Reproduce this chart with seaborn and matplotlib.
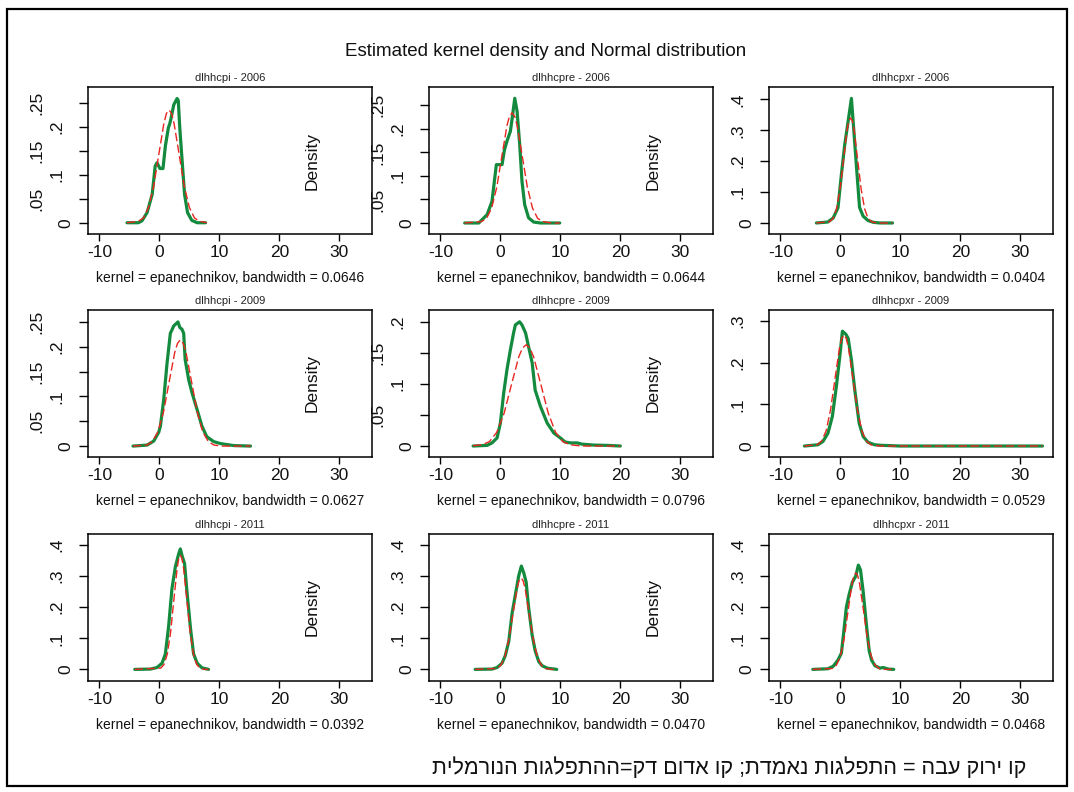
import seaborn as sns
import matplotlib.pyplot as plt
import matplotlib.transforms as mtrans
from matplotlib.patches import Rectangle

# --- values ---
titles = ['dlhhcpi - 2006', 'dlhhcpre - 2006', 'dlhhcpxr - 2006',
          'dlhhcpi - 2009', 'dlhhcpre - 2009', 'dlhhcpxr - 2009',
          'dlhhcpi - 2011', 'dlhhcpre - 2011', 'dlhhcpxr - 2011']
bandwidths = ['0.0646', '0.0644', '0.0404', '0.0627', '0.0796', '0.0529', '0.0392', '0.0470', '0.0468']

x_ticks = [-10, 0, 10, 20, 30]
x_tick_labels = ['-10', '0', '10', '20', '30']
yt_25 = [0, 0.05, 0.1, 0.15, 0.2, 0.25]
yt_25_lab = ['0', '.05', '.1', '.15', '.2', '.25']
yt_20 = [0, 0.05, 0.1, 0.15, 0.2]
yt_20_lab = ['0', '.05', '.1', '.15', '.2']
yt_3 = [0, 0.1, 0.2, 0.3]
yt_3_lab = ['0', '.1', '.2', '.3']
yt_4 = [0, 0.1, 0.2, 0.3, 0.4]
yt_4_lab = ['0', '.1', '.2', '.3', '.4']

# kernel density (green) and normal density (red) -- dlhhcpi 2006
kd_x_cpi06 = [-5.4, -3.5, -2.9, -2.05, -1.2, -0.7, -0.4, 0.1, 0.6, 1.0, 1.5, 1.7, 1.9, 2.4, 2.95, 3.15, 3.4, 3.8, 4.2, 4.7, 5.4, 6.3, 7.7]
kd_y_cpi06 = [0, 0.0, 0.004, 0.021, 0.059, 0.118, 0.125, 0.113, 0.113, 0.16, 0.198, 0.205, 0.215, 0.246, 0.259, 0.255, 0.198, 0.128, 0.059, 0.021, 0.005, 0.0, 0]
nd_x_cpi06 = [-5.4, -3.5, -2.65, -1.8, -0.95, -0.1, 0.75, 1.18, 1.6, 2.03, 2.45, 3.3, 4.15, 5.0, 5.85, 6.7, 7.9]
nd_y_cpi06 = [0.0, 0.003, 0.010, 0.032, 0.076, 0.142, 0.207, 0.228, 0.235, 0.228, 0.207, 0.142, 0.076, 0.032, 0.010, 0.003, 0.0]

# dlhhcpre 2006
kd_x_cpre06 = [-5.95, -3.6, -2.2, -1.4, -0.67, 0.28, 0.67, 1.1, 1.67, 1.94, 2.4, 2.78, 3.22, 3.6, 4.05, 4.7, 5.55, 6.67, 9.9]
kd_y_cpre06 = [0, 0.0, 0.018, 0.046, 0.124, 0.124, 0.155, 0.174, 0.195, 0.22, 0.265, 0.238, 0.167, 0.089, 0.039, 0.011, 0.002, 0.0, 0]
nd_x_cpre06 = [-5.95, -3.15, -2.3, -1.45, -0.6, 0.25, 1.1, 1.52, 1.95, 2.38, 2.8, 3.65, 4.5, 5.35, 6.2, 7.05, 8.5, 9.9]
nd_y_cpre06 = [0.0, 0.003, 0.010, 0.032, 0.076, 0.142, 0.207, 0.227, 0.234, 0.227, 0.207, 0.142, 0.076, 0.032, 0.010, 0.003, 0.0, 0.0]

# dlhhcpxr 2006
kd_x_cpxr06 = [-4.0, -2.1, -1.2, -0.4, 0.17, 0.73, 1.3, 1.84, 2.2, 2.7, 3.2, 3.8, 4.6, 5.5, 6.6, 8.7]
kd_y_cpxr06 = [0, 0.003, 0.016, 0.049, 0.157, 0.254, 0.33, 0.403, 0.31, 0.178, 0.05, 0.022, 0.008, 0.002, 0.0, 0]
nd_x_cpxr06 = [-4.0, -1.8, -1.2, -0.64, -0.06, 0.53, 1.1, 1.4, 1.7, 2.0, 2.3, 2.87, 3.46, 4.04, 4.6, 5.2, 6.0, 8.7]
nd_y_cpxr06 = [0.0, 0.004, 0.015, 0.046, 0.11, 0.206, 0.30, 0.33, 0.34, 0.33, 0.30, 0.206, 0.11, 0.046, 0.015, 0.004, 0.0, 0.0]

# dlhhcpi 2009
kd_x_cpi09 = [-4.4, -2.05, -0.95, -0.1, 0.17, 0.72, 1.28, 1.83, 2.4, 3.1, 3.4, 3.78, 4.05, 4.3, 4.9, 5.45, 6.3, 7.1, 7.9, 9.05, 10.2, 12.4, 15.2]
kd_y_cpi09 = [0, 0.002, 0.01, 0.028, 0.04, 0.093, 0.167, 0.227, 0.242, 0.25, 0.239, 0.235, 0.227, 0.174, 0.133, 0.107, 0.073, 0.04, 0.019, 0.009, 0.005, 0.001, 0]
nd_x_cpi09 = [-4.4, -2.1, -1.16, -0.23, 0.7, 1.64, 2.57, 3.03, 3.5, 3.97, 4.43, 5.36, 6.3, 7.23, 8.16, 9.1, 10.5, 15.2]
nd_y_cpi09 = [0.0, 0.002, 0.009, 0.029, 0.069, 0.13, 0.189, 0.207, 0.214, 0.207, 0.189, 0.13, 0.069, 0.029, 0.009, 0.002, 0.0, 0.0]

# dlhhcpre 2009
kd_x_cpre09 = [-4.55, -2.2, -1.4, -0.55, 0.0, 0.55, 1.1, 1.67, 2.2, 2.5, 3.2, 3.6, 4.2, 4.7, 5.3, 5.8, 6.67, 7.8, 8.9, 10.0, 10.8, 11.7, 12.8, 13.6, 15.6, 17.8, 20.0]
kd_y_cpre09 = [0, 0.001, 0.005, 0.013, 0.037, 0.085, 0.123, 0.155, 0.182, 0.195, 0.2, 0.195, 0.182, 0.16, 0.134, 0.09, 0.064, 0.037, 0.021, 0.013, 0.0064, 0.005, 0.005, 0.003, 0.0015, 0.001, 0]
nd_x_cpre09 = [-4.55, -3.05, -1.83, -0.6, 0.63, 1.85, 3.08, 3.7, 4.3, 4.9, 5.53, 6.75, 7.98, 9.2, 10.43, 11.65, 13.5, 20.0]
nd_y_cpre09 = [0.0005, 0.002, 0.007, 0.022, 0.053, 0.099, 0.144, 0.158, 0.163, 0.158, 0.144, 0.099, 0.053, 0.022, 0.007, 0.002, 0.0, 0.0]

# dlhhcpxr 2009
kd_x_cpxr09 = [-6.0, -3.75, -2.9, -2.07, -1.34, -0.67, -0.1, 0.34, 0.9, 1.3, 1.84, 2.4, 3.13, 3.8, 4.6, 5.7, 6.9, 8.2, 9.9, 33.7]
kd_y_cpxr09 = [0, 0.003, 0.011, 0.031, 0.071, 0.143, 0.215, 0.276, 0.269, 0.259, 0.207, 0.135, 0.055, 0.023, 0.009, 0.003, 0.0016, 0.001, 0, 0]
nd_x_cpxr09 = [-6.0, -3.87, -3.13, -2.38, -1.64, -0.89, -0.15, 0.23, 0.6, 0.97, 1.35, 2.09, 2.84, 3.58, 4.33, 5.07, 6.5, 33.7]
nd_y_cpxr09 = [0.0, 0.003, 0.012, 0.036, 0.087, 0.162, 0.236, 0.259, 0.267, 0.259, 0.236, 0.162, 0.087, 0.036, 0.012, 0.003, 0.0, 0.0]

# dlhhcpi 2011
kd_x_cpi11 = [-4.1, -1.5, -0.4, 0.45, 1.0, 1.55, 2.1, 2.67, 3.2, 3.5, 3.8, 4.2, 4.6, 5.2, 5.7, 6.3, 7.1, 8.2]
kd_y_cpi11 = [0, 0.001, 0.006, 0.02, 0.05, 0.14, 0.26, 0.33, 0.37, 0.387, 0.364, 0.34, 0.25, 0.13, 0.05, 0.02, 0.005, 0]
nd_x_cpi11 = [-4.1, 0.24, 0.78, 1.33, 1.87, 2.41, 2.96, 3.23, 3.5, 3.77, 4.04, 4.59, 5.13, 5.67, 6.22, 6.76, 7.5, 8.2]
nd_y_cpi11 = [0.0, 0.004, 0.016, 0.05, 0.119, 0.223, 0.324, 0.356, 0.367, 0.356, 0.324, 0.223, 0.119, 0.05, 0.016, 0.004, 0.0, 0.0]

# dlhhcpre 2011
kd_x_cpre11 = [-4.2, -1.4, -0.55, 0.28, 0.83, 1.4, 1.95, 2.5, 3.05, 3.5, 3.9, 4.3, 4.7, 5.3, 5.8, 6.4, 6.95, 7.8, 9.4]
kd_y_cpre11 = [0, 0.001, 0.006, 0.02, 0.045, 0.09, 0.18, 0.24, 0.3, 0.332, 0.31, 0.28, 0.2, 0.11, 0.06, 0.025, 0.012, 0.004, 0]
nd_x_cpre11 = [-4.2, -0.62, 0.06, 0.74, 1.41, 2.09, 2.77, 3.11, 3.45, 3.79, 4.13, 4.81, 5.49, 6.16, 6.84, 7.52, 8.5, 9.4]
nd_y_cpre11 = [0.0, 0.003, 0.013, 0.04, 0.096, 0.178, 0.259, 0.285, 0.294, 0.285, 0.259, 0.178, 0.096, 0.04, 0.013, 0.003, 0.0, 0.0]

# dlhhcpxr 2011
kd_x_cpxr11 = [-4.6, -2.1, -1.2, -0.4, 0.17, 0.56, 1.0, 1.45, 2.0, 2.57, 3.0, 3.35, 3.8, 4.36, 4.8, 5.2, 5.75, 6.6, 7.1, 7.5, 8.0, 8.9]
kd_y_cpxr11 = [0, 0.002, 0.01, 0.03, 0.052, 0.12, 0.2, 0.24, 0.28, 0.3, 0.335, 0.32, 0.25, 0.14, 0.06, 0.03, 0.012, 0.004, 0.006, 0.004, 0.001, 0]
nd_x_cpxr11 = [-4.6, -1.29, -0.65, 0.0, 0.64, 1.28, 1.93, 2.25, 2.57, 2.89, 3.21, 3.86, 4.5, 5.14, 5.79, 6.43, 7.5, 9.0]
nd_y_cpxr11 = [0.0, 0.003, 0.014, 0.042, 0.10, 0.188, 0.274, 0.301, 0.31, 0.301, 0.274, 0.188, 0.10, 0.042, 0.014, 0.003, 0.0, 0.0]

kd_x = [kd_x_cpi06, kd_x_cpre06, kd_x_cpxr06, kd_x_cpi09, kd_x_cpre09, kd_x_cpxr09, kd_x_cpi11, kd_x_cpre11, kd_x_cpxr11]
kd_y = [kd_y_cpi06, kd_y_cpre06, kd_y_cpxr06, kd_y_cpi09, kd_y_cpre09, kd_y_cpxr09, kd_y_cpi11, kd_y_cpre11, kd_y_cpxr11]
nd_x = [nd_x_cpi06, nd_x_cpre06, nd_x_cpxr06, nd_x_cpi09, nd_x_cpre09, nd_x_cpxr09, nd_x_cpi11, nd_x_cpre11, nd_x_cpxr11]
nd_y = [nd_y_cpi06, nd_y_cpre06, nd_y_cpxr06, nd_y_cpi09, nd_y_cpre09, nd_y_cpxr09, nd_y_cpi11, nd_y_cpre11, nd_y_cpxr11]

y_ticks = [yt_25, yt_25, yt_4, yt_25, yt_20, yt_3, yt_4, yt_4, yt_4]
y_tick_labels = [yt_25_lab, yt_25_lab, yt_4_lab, yt_25_lab, yt_20_lab, yt_3_lab, yt_4_lab, yt_4_lab, yt_4_lab]
y_limits = [(-0.0235, 0.283), (-0.0234, 0.289), (-0.0357, 0.44),
            (-0.022, 0.274), (-0.0177, 0.219), (-0.0264, 0.327),
            (-0.0373, 0.435), (-0.0373, 0.435), (-0.0373, 0.435)]

main_title = 'Estimated kernel density and Normal distribution'
note_text = 'קו ירוק עבה = התפלגות נאמדת; קו אדום דק=ההתפלגות הנורמלית'

# --- style ---
sns.set_theme(style='white')
plt.rcParams['font.family'] = ['Liberation Sans', 'DejaVu Sans']

GREEN = '#138a3e'
RED = '#e8261f'
W, H = 1074, 792
fig = plt.figure(figsize=(W / 100, H / 100), dpi=100)

col_left = [88, 429, 769]
row_top = [87, 310, 534]
ax_w, ax_h = 284, 147
tick_fs = 12.5
em_px = tick_fs * 100 / 72


def ylab_offset(s):
    # rotated y labels in the reference sit further out the longer they are
    w = sum(0.278 if c == '.' else 0.556 for c in s) * em_px
    return 2.6 + 2 * w


for i in range(9):
    r, c = divmod(i, 3)
    ax = fig.add_axes([col_left[c] / W, 1 - (row_top[r] + ax_h) / H, ax_w / W, ax_h / H])

    sns.lineplot(x=kd_x[i], y=kd_y[i], ax=ax, color=GREEN, linewidth=2.3,
                 estimator=None, sort=False)
    sns.lineplot(x=nd_x[i], y=nd_y[i], ax=ax, color=RED, linewidth=1.0,
                 linestyle=(0, (6, 2.5)), estimator=None, sort=False)

    ax.set_xlim(-11.9, 35.45)
    ax.set_ylim(*y_limits[i])
    ax.set_xticks(x_ticks)
    ax.set_xticklabels(x_tick_labels)
    ax.set_yticks(y_ticks[i])
    ax.set_yticklabels([])
    ax.tick_params(axis='x', bottom=True, length=5, width=1.0, labelsize=tick_fs,
                   pad=3, colors='black', labelcolor='#111111')
    ax.tick_params(axis='y', left=True, length=6.5, width=1.0, colors='black')
    for sp in ax.spines.values():
        sp.set_color('black')
        sp.set_linewidth(1.1)
    ax.set_xlabel('')
    ax.set_ylabel('')

    for v, s in zip(y_ticks[i], y_tick_labels[i]):
        off = ylab_offset(s)
        tr = mtrans.blended_transform_factory(ax.transAxes, ax.transData) + \
            mtrans.ScaledTranslation(-off / 100, 0, fig.dpi_scale_trans)
        ax.text(0, v, s, transform=tr, rotation=90, ha='center', va='center',
                fontsize=tick_fs, color='#111111')

    ax.text(0.5, 1 + 9 / ax_h, titles[i], transform=ax.transAxes, ha='center',
            va='center', fontsize=8, color='#222222')
    ax.text(0.5, -44 / ax_h, 'kernel = epanechnikov, bandwidth = ' + bandwidths[i],
            transform=ax.transAxes, ha='center', va='center', fontsize=10, color='#111111')
    if c < 2:
        ax.text(0.79, 0.5, 'Density', transform=ax.transAxes, rotation=90,
                ha='center', va='center', fontsize=tick_fs, color='#111111')

fig.text(546 / W, 1 - 52 / H, main_title, ha='center', va='center', fontsize=13.5, color='#111111')
# the note in the source image is laid out with its letters in the opposite visual order
fig.text(729 / W, 1 - 768 / H, note_text[::-1], ha='center', va='center', fontsize=15.5, color='#111111')

fig.add_artist(Rectangle((7 / W, 1 - 786 / H), 1060 / W, 777 / H, transform=fig.transFigure,
                         fill=False, edgecolor='black', linewidth=1.6))

fig.savefig('out.png', dpi=100)
